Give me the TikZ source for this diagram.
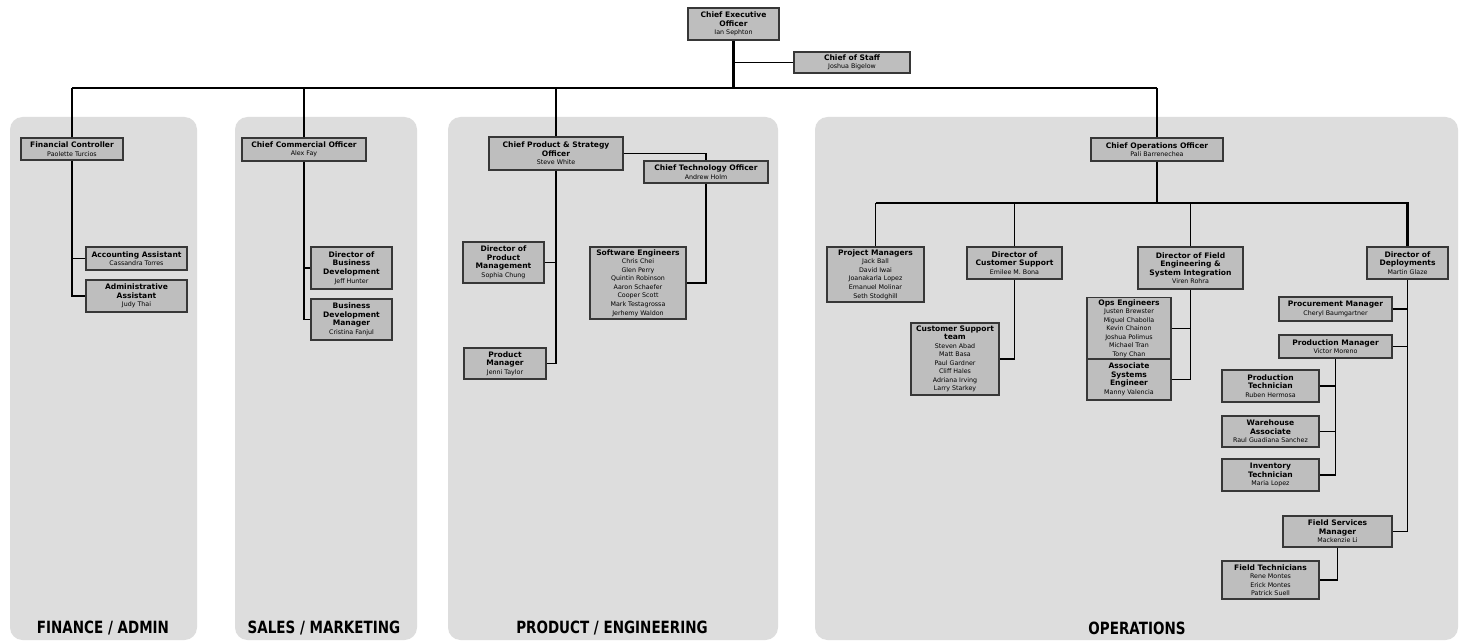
\documentclass[tikz,border=0pt]{standalone}
\usepackage{fontspec}
\setmainfont{DejaVu Sans}
\newfontfamily\lblfont[FakeStretch=0.8]{DejaVu Sans}
\definecolor{panelgray}{RGB}{221,221,221}
\definecolor{boxgray}{RGB}{190,190,190}
\definecolor{boxline}{RGB}{55,55,55}
\tikzset{
  box/.style={draw=boxline,fill=boxgray,rectangle,align=center,inner sep=1pt,line width=0.6pt,font=\fontsize{3.6}{4.85}\selectfont},
  panel/.style={fill=panelgray,rounded corners=0.25cm},
  link/.style={line width=0.8pt},
  bus/.style={line width=1.2pt},
  dept/.style={font=\lblfont\bfseries\fontsize{9.6}{11}\selectfont}
}
\newcommand{\ttl}[1]{{\fontsize{4.3}{4.85}\selectfont\bfseries #1}}
\begin{document}
\begin{tikzpicture}[x=0.02cm,y=-0.02cm]
    \useasboundingbox (0,0) rectangle (1461,642);
    \fill [white](0,0) rectangle (1461,642);

    \fill [panel](10,117) rectangle (197,640);
    \fill [panel](235,117) rectangle (417,640);
    \fill [panel](448,117) rectangle (778,640);
    \fill [panel](815,117) rectangle (1458,640);

    \node [dept](fin)at(103,628){FINANCE / ADMIN};
    \node [dept](sal)at(324,628){SALES / MARKETING};
    \node [dept](prd)at(612,628){PRODUCT / ENGINEERING};
    \node [dept](ops)at(1137,628){OPERATIONS};

    \node [box,minimum width=1.82cm,minimum height=0.64cm](ceo)at(733.5,24){\ttl{Chief Executive}\\\ttl{Officer}\\Ian Sephton};
    \node [box,minimum width=2.32cm,minimum height=0.42cm](cos)at(852,62.5){\ttl{Chief of Staff}\\Joshua Bigelow};

    \node [box,minimum width=2.04cm,minimum height=0.44cm](fc)at(72,149){\ttl{Financial Controller}\\Paolette Turcios};
    \node [box,minimum width=2.02cm,minimum height=0.46cm](acca)at(136.5,258.5){\ttl{Accounting Assistant}\\Cassandra Torres};
    \node [box,minimum width=2.02cm,minimum height=0.64cm](adma)at(136.5,296){\ttl{Administrative}\\\ttl{Assistant}\\Judy Thai};

    \node [box,minimum width=2.48cm,minimum height=0.46cm](cco)at(304,149.5){\ttl{Chief Commercial Officer}\\Alex Fay};
    \node [box,minimum width=1.62cm,minimum height=0.84cm](dbd)at(351.5,268){\ttl{Director of}\\\ttl{Business}\\\ttl{Development}\\Jeff Hunter};
    \node [box,minimum width=1.62cm,minimum height=0.82cm](bdm)at(351.5,319.5){\ttl{Business}\\\ttl{Development}\\\ttl{Manager}\\Cristina Fanjul};

    \node [box,minimum width=2.68cm,minimum height=0.66cm](cpso)at(556,153.5){\ttl{Chief Product \& Strategy}\\\ttl{Officer}\\Steve White};
    \node [box,minimum width=2.48cm,minimum height=0.44cm](cto)at(706,172){\ttl{Chief Technology Officer}\\Andrew Holm};
    \node [box,minimum width=1.62cm,minimum height=0.82cm](dpm)at(503.5,262.5){\ttl{Director of}\\\ttl{Product}\\\ttl{Management}\\Sophia Chung};
    \node [box,minimum width=1.92cm,minimum height=1.44cm](swe)at(638,283){\ttl{Software Engineers}\\Chris Chei\\Glen Perry\\Quintin Robinson\\Aaron Schaefer\\Cooper Scott\\Mark Testagrossa\\Jerhemy Waldon};
    \node [box,minimum width=1.64cm,minimum height=0.62cm](pm)at(505,363.5){\ttl{Product}\\\ttl{Manager}\\Jenni Taylor};

    \node [box,minimum width=2.64cm,minimum height=0.46cm](coo)at(1157,149.5){\ttl{Chief Operations Officer}\\Pali Barrenechea};
    \node [box,minimum width=1.94cm,minimum height=1.10cm](pjm)at(875.5,274.5){\ttl{Project Managers}\\Jack Ball\\David Iwai\\Joanakarla Lopez\\Emanuel Molinar\\Seth Stodghill};
    \node [box,minimum width=1.90cm,minimum height=0.64cm](dcs)at(1014.5,263){\ttl{Director of}\\\ttl{Customer Support}\\Emilee M. Bona};
    \node [box,minimum width=1.76cm,minimum height=1.44cm](cst)at(955,359){\ttl{Customer Support}\\\ttl{team}\\Steven Abad\\Matt Basa\\Paul Gardner\\Cliff Hales\\Adriana Irving\\Larry Starkey};
    \node [box,minimum width=2.10cm,minimum height=0.84cm](dfe)at(1190.5,268){\ttl{Director of Field}\\\ttl{Engineering \&}\\\ttl{System Integration}\\Viren Rohra};
    \node [box,minimum width=1.68cm,minimum height=1.22cm](opse)at(1129,328.5){\ttl{Ops Engineers}\\Justen Brewster\\Miguel Chabolla\\Kevin Chainon\\Joshua Polimus\\Michael Tran\\Tony Chan};
    \node [box,minimum width=1.68cm,minimum height=0.82cm](ase)at(1129,379.5){\ttl{Associate}\\\ttl{Systems}\\\ttl{Engineer}\\Manny Valencia};
    \node [box,minimum width=1.62cm,minimum height=0.64cm](dd)at(1407.5,263){\ttl{Director of}\\\ttl{Deployments}\\Martin Glaze};
    \node [box,minimum width=2.26cm,minimum height=0.48cm](procm)at(1335.5,309){\ttl{Procurement Manager}\\Cheryl Baumgartner};
    \node [box,minimum width=2.26cm,minimum height=0.46cm](prodm)at(1335.5,346.5){\ttl{Production Manager}\\Victor Moreno};
    \node [box,minimum width=1.94cm,minimum height=0.64cm](pt)at(1270.5,386){\ttl{Production}\\\ttl{Technician}\\Ruben Hermosa};
    \node [box,minimum width=1.94cm,minimum height=0.62cm](wa)at(1270.5,431.5){\ttl{Warehouse}\\\ttl{Associate}\\Raul Guadiana Sanchez};
    \node [box,minimum width=1.94cm,minimum height=0.64cm](it)at(1270.5,475){\ttl{Inventory}\\\ttl{Technician}\\Maria Lopez};
    \node [box,minimum width=2.18cm,minimum height=0.62cm](fsm)at(1337.5,531.5){\ttl{Field Services}\\\ttl{Manager}\\Mackenzie Li};
    \node [box,minimum width=1.94cm,minimum height=0.76cm](ft)at(1270.5,580){\ttl{Field Technicians}\\Rene Montes\\Erick Montes\\Patrick Suell};

    \coordinate (busl)at(72,88);
    \coordinate (busr)at(1157,88);
    \coordinate (obus)at(875.5,203);

    \draw [bus](busl)--(busr);
    \draw [bus](ceo.south)--(ceo.south|-busl);
    \draw [link](cos.west)--(cos.west-|ceo.south);
    \draw [link](fc.north)--(fc.north|-busl);
    \draw [link](cco.north)--(cco.north|-busl);
    \draw [link](cpso.north)--(cpso.north|-busl);
    \draw [link](coo.north)--(coo.north|-busl);

    \draw [link](fc.south)|-(adma.west);
    \draw [link](acca.west)--(acca.west-|fc.south);
    \draw [link](cco.south)|-(bdm.west);
    \draw [link](dbd.west)--(dbd.west-|cco.south);
    \draw [link](cpso.south)|-(pm.east);
    \draw [link](dpm.east)--(dpm.east-|cpso.south);
    \draw [link](cpso.east)-|(cto.north);
    \draw [link](cto.south)|-(swe.east);

    \draw [link](coo.south)--(coo.south|-obus);
    \draw [bus](obus)-|(dd.north);
    \draw [link](pjm.north)--(obus);
    \draw [link](dcs.north)--(dcs.north|-obus);
    \draw [link](dfe.north)--(dfe.north|-obus);
    \draw [link](dcs.south)|-(cst.east);
    \draw [link](dfe.south)|-(ase.east);
    \draw [link](opse.east)--(opse.east-|dfe.south);
    \draw [link](dd.south)|-(fsm.east);
    \draw [link](procm.east)--(procm.east-|dd.south);
    \draw [link](prodm.east)--(prodm.east-|dd.south);
    \draw [link](prodm.south)|-(it.east);
    \draw [link](pt.east)--(pt.east-|prodm.south);
    \draw [link](wa.east)--(wa.east-|prodm.south);
    \draw [link](fsm.south)|-(ft.east);
\end{tikzpicture}
\end{document}
